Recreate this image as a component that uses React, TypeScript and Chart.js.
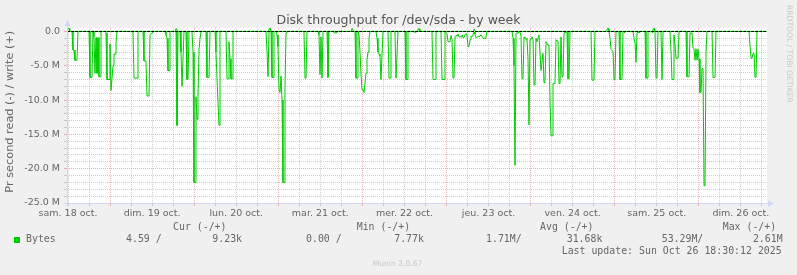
import React, { useEffect, useRef } from 'react';
import { Chart, registerables } from 'chart.js';

Chart.register(...registerables);

const TITLE = 'Disk throughput for /dev/sda - by week';
const Y_TITLE = 'Pr second read (-) / write (+)';
const dayLabels = ['sam. 18 oct.', 'dim. 19 oct.', 'lun. 20 oct.', 'mar. 21 oct.', 'mer. 22 oct.', 'jeu. 23 oct.', 'ven. 24 oct.', 'sam. 25 oct.', 'dim. 26 oct.'];

// time window, hours since Sat 18 Oct 2025 00:00
const windowStartHour = 11.71;
const windowEndHour = 211.47;
const yMinM = -25;
const yMaxM = 0.5;

// read throughput (MB/s), drawn below zero
const readHours = [
  11.71, 13.14, 13.42, 13.71, 13.99, 14.56, 14.85, 17.99, 18.27, 18.84, 19.13, 19.41, 19.70, 19.99, 20.27, 20.56, 20.84, 21.13, 21.41,
  22.55, 22.84, 23.12, 23.70, 23.98, 24.27, 24.55, 24.84, 25.12, 25.41, 25.69, 25.98, 30.54, 30.83, 31.69, 31.97, 32.26,
  33.40, 33.68, 34.25, 34.54, 35.11, 35.40, 35.97, 36.25, 39.68, 39.96, 40.25, 40.53, 40.82, 41.10, 42.82, 43.10, 43.39,
  43.96, 44.24, 44.53, 44.81, 45.10, 45.67, 45.95, 46.24, 46.53, 47.38, 47.67, 47.95, 48.24, 48.52, 48.81, 49.09, 49.38, 49.67, 49.95,
  51.38, 51.66, 52.23, 52.52, 53.95, 54.23, 54.52, 54.80, 55.09, 55.37, 57.08, 57.37, 57.66, 57.94, 58.23, 58.51, 58.80, 59.08,
  68.50, 68.79, 69.07, 69.36, 69.93, 70.21, 70.50, 70.78, 71.35, 71.64, 71.92, 72.21, 72.50, 72.78, 73.07, 73.35, 73.64, 73.92, 74.21, 74.49,
  79.34, 79.63, 79.92, 80.20, 83.34, 83.62, 83.91, 84.20, 84.48, 84.77, 85.91, 86.19, 86.48, 87.62, 87.91, 88.48, 88.76,
  93.90, 94.18, 94.47, 94.75, 95.04, 95.33, 95.61, 95.90, 96.18, 96.47, 96.75, 97.04, 97.32, 97.61, 97.89, 98.18,
  99.89, 100.18, 100.46, 100.75, 101.03, 101.32, 101.60, 101.89, 103.32, 103.60, 103.89, 104.17, 105.31, 105.60, 105.88, 106.17,
  108.17, 108.45, 108.74, 109.02, 110.45, 110.74, 111.31, 111.59, 115.87, 116.16, 116.73, 117.01, 118.44, 118.73, 119.30, 119.58,
  120.15, 120.44, 121.01, 121.30, 121.58, 121.87, 122.15, 122.44, 122.72, 123.01, 123.29, 123.58, 124.15, 124.43, 124.72, 125.01,
  125.29, 125.58, 125.86, 126.15, 126.43, 126.72, 127.00, 127.29, 127.57, 127.86, 128.14, 128.43, 128.72, 129.00, 129.57, 129.86,
  130.14, 130.43, 131.00, 131.28, 131.57, 138.70, 138.99, 139.27, 139.56, 139.85, 140.13, 140.42, 140.70, 140.99, 141.27, 141.56,
  141.84, 142.13, 142.41, 142.70, 142.98, 143.27, 143.56, 143.84, 144.13, 144.41, 144.70, 144.98, 145.27, 145.55, 145.84, 146.12,
  146.41, 146.69, 146.98, 147.26, 147.55, 147.84, 148.12, 148.41, 148.69, 148.98, 149.26, 149.55, 149.83, 150.12, 150.40, 150.97,
  151.26, 151.55, 151.83, 152.12, 152.40, 152.69, 152.97, 153.26, 153.54, 153.83, 154.40, 154.68, 154.97, 155.26,
  161.25, 161.53, 162.10, 162.39, 166.39, 166.67, 166.96, 167.24, 167.53, 167.81, 168.10, 168.38, 169.24, 169.52, 170.10, 170.38,
  170.67, 170.95, 171.24, 173.23, 173.52, 173.81, 174.09, 174.38, 174.66, 175.23, 175.52, 176.66, 176.94, 177.23, 177.51,
  178.37, 178.66, 178.94, 179.23, 179.51, 179.80, 180.08, 180.37, 181.22, 181.51, 181.80, 183.79, 184.08, 184.36, 184.65, 184.93,
  185.22, 185.51, 186.08, 186.36, 186.65, 188.36, 188.64, 189.22, 189.50, 189.79, 190.07, 190.36, 190.64, 190.93, 191.21, 191.50,
  191.78, 192.07, 192.35, 192.64, 192.93, 193.21, 193.50, 193.78, 194.07, 194.35, 195.78, 196.06, 196.64, 196.92,
  206.34, 206.62, 206.91, 207.19, 207.48, 207.77, 208.05, 208.34, 208.62, 211.19,
];
const readMBps = [
  0, 0, 2.7, 2.7, 4.2, 4.2, 0, 0, 6.7, 6.7, 0, 0.8, 6.1, 0.9, 6.1, 0.9, 6.6, 6.6, 0,
  0, 0.2, 7.0, 7.0, 1.8, 8.6, 8.6, 5.0, 3.3, 3.3, 1.7, 0, 0, 6.8, 6.8, 0.2, 0,
  0, 4.3, 4.3, 9.4, 9.4, 0.5, 0.2, 0, 0, 0.5, 1.0, 5.7, 5.7, 0, 0, 13.7, 0,
  0, 3.0, 8.0, 8.0, 0, 0, 7.0, 7.0, 0, 0, 3.0, 22.0, 22.0, 9.5, 12.8, 9.5, 2.7, 1.0, 0,
  0, 6.7, 6.7, 0, 0, 3.0, 6.8, 6.8, 13.7, 0, 0, 6.9, 6.9, 1.5, 4.0, 6.9, 6.9, 0,
  0, 3.0, 6.6, 0, 0, 6.7, 6.7, 0, 0, 0.5, 2.2, 8.5, 8.9, 6.5, 10.0, 22.0, 22.0, 8.0, 0.2, 0,
  0, 6.8, 6.8, 0, 0, 0.5, 6.3, 0.8, 6.8, 0, 0, 6.7, 0, 0, 0.2, 0.2, 0,
  0, 6.8, 6.8, 0, 0.5, 3.0, 6.3, 8.5, 8.5, 8.9, 8.9, 6.1, 4.1, 3.0, 1.0, 0,
  0, 1.0, 3.0, 3.3, 3.6, 7.0, 7.0, 0, 0, 6.8, 6.8, 0, 0, 6.8, 6.8, 0,
  0, 7.0, 7.0, 0, 0, 0.1, 0.1, 0, 0, 7.0, 7.0, 0, 0, 7.0, 7.0, 0,
  0.3, 1.5, 1.5, 0.6, 1.2, 6.8, 6.8, 0.8, 0.6, 0.6, 0.4, 0.8, 0.8, 0.5, 0.9, 0.9,
  0.5, 0.3, 0.6, 2.2, 2.2, 1.2, 0.7, 0.7, 0.5, 0.1, 0.4, 0.9, 0.9, 0.7, 0.7, 0.5,
  0.7, 1.0, 1.0, 0.8, 0, 0, 1.0, 5.0, 19.5, 0.3, 0.2, 0.3, 0, 0.1, 0.7, 6.9,
  6.9, 0.8, 1.0, 1.2, 1.0, 4.0, 13.6, 1.2, 1.2, 0.8, 1.2, 7.8, 7.8, 1.0, 1.5, 1.0,
  0.5, 0.5, 5.7, 5.7, 3.2, 7.5, 7.5, 1.5, 1.7, 2.0, 2.0, 10.0, 15.2, 15.2, 7.6, 7.6,
  1.2, 1.4, 1.4, 7.6, 7.6, 0.8, 6.6, 6.6, 0.2, 0.2, 0, 6.9, 6.9, 0,
  0, 7.1, 7.1, 0, 0, 1.0, 2.6, 2.8, 2.9, 7.0, 7.0, 0, 0, 7.0, 7.0, 0,
  0.15, 0.15, 0, 0, 1.0, 1.7, 4.5, 0.2, 0.15, 0.15, 0, 0, 6.8, 6.8, 0,
  0, 0.15, 0.15, 0, 0, 6.8, 6.8, 0, 0, 7.0, 0, 0, 3.0, 7.0, 7.0, 0.5,
  2.0, 3.9, 3.9, 0.2, 0, 0, 6.6, 6.6, 0.2, 0.3, 0.2, 2.4, 2.5, 4.2, 2.5, 4.2,
  2.6, 4.0, 8.9, 8.9, 5.4, 5.4, 22.5, 22.5, 3.0, 0, 0, 6.7, 6.7, 0,
  0, 2.0, 3.9, 3.9, 3.2, 3.2, 6.7, 6.7, 0, 0,
];

// write throughput (MB/s), drawn above zero
const writeHours = [11.71, 11.85, 12.3, 12.5, 42.6, 42.75, 43.0, 43.2, 69.25, 69.4, 69.65, 69.85, 92.8, 92.95, 93.2, 93.4,
  111.8, 111.95, 112.2, 112.4, 127.65, 127.8, 128.0, 128.2, 165.75, 165.9, 166.15, 166.35, 178.85, 179.0, 179.25, 179.45, 211.4];
const writeMBps = [0, 0.45, 0.45, 0, 0, 0.4, 0.4, 0, 0, 0.45, 0.45, 0, 0, 0.4, 0.4, 0,
  0, 0.4, 0.4, 0, 0, 0.3, 0.3, 0, 0, 0.45, 0.45, 0, 0, 0.45, 0.45, 0, 0];

const seriesName = 'Bytes';
const legendHeaders = ['Cur (-/+)', 'Min (-/+)', 'Avg (-/+)', 'Max (-/+)'];
const legendValues = ['4.59 /', '9.23k', '0.00 /', '7.77k', '1.71M/', '31.68k', '53.29M/', '2.61M'];
const lastUpdate = 'Last update: Sun Oct 26 18:30:12 2025';
const footerText = 'Munin 2.0.67';
const watermarkText = 'RRDTOOL / TOBI OETIKER';

const GREEN = '#00cc00';
const FONT_COLOR = '#666666';
const AXIS_COLOR = '#cfd6f8';
const MAJOR_GRID = 'rgba(220,120,120,0.55)';
const MINOR_GRID = 'rgba(140,140,140,0.42)';
const SANS = '"DejaVu Sans", sans-serif';
const MONO = '"DejaVu Sans Mono", monospace';

const headerX = [173, 356.7, 540, 722.7];
const valueX = [126, 212.3, 306, 394.2, 486, 566.7, 661.7, 752.9];

const backgroundPlugin = {
  id: 'bg',
  beforeDraw(chart: any) {
    const { ctx, chartArea } = chart;
    ctx.save();
    ctx.fillStyle = '#f0f0f0';
    ctx.fillRect(0, 0, chart.width, chart.height);
    ctx.fillStyle = '#ffffff';
    ctx.fillRect(chartArea.left, chartArea.top, chartArea.right - chartArea.left, chartArea.bottom - chartArea.top);
    ctx.restore();
  },
};

const overlayPlugin = {
  id: 'overlay',
  afterDatasetsDraw(chart: any) {
    const { ctx, chartArea, scales } = chart;
    const y0 = Math.round(scales.y.getPixelForValue(0)) + 0.5;
    ctx.save();
    ctx.strokeStyle = '#000000';
    ctx.lineWidth = 1;
    ctx.setLineDash([3, 1]);
    ctx.beginPath();
    ctx.moveTo(chartArea.left, y0);
    ctx.lineTo(chartArea.right, y0);
    ctx.stroke();
    ctx.restore();
  },
  afterDraw(chart: any) {
    const { ctx, chartArea } = chart;
    const L = chartArea.left + 0.5;
    const B = chartArea.bottom + 0.5;
    ctx.save();
    // axes and arrows
    ctx.strokeStyle = AXIS_COLOR;
    ctx.fillStyle = AXIS_COLOR;
    ctx.lineWidth = 1;
    ctx.beginPath();
    ctx.moveTo(L, B + 3);
    ctx.lineTo(L, chartArea.top - 4);
    ctx.moveTo(L - 4, B);
    ctx.lineTo(chartArea.right + 3, B);
    ctx.stroke();
    ctx.beginPath();
    ctx.moveTo(L - 3, chartArea.top - 2);
    ctx.lineTo(L + 3, chartArea.top - 2);
    ctx.lineTo(L, chartArea.top - 8);
    ctx.closePath();
    ctx.fill();
    ctx.beginPath();
    ctx.moveTo(chartArea.right + 1, B - 3);
    ctx.lineTo(chartArea.right + 1, B + 3);
    ctx.lineTo(chartArea.right + 7, B);
    ctx.closePath();
    ctx.fill();

    // title
    ctx.fillStyle = '#555555';
    ctx.font = `12.5px ${SANS}`;
    ctx.textAlign = 'center';
    ctx.textBaseline = 'alphabetic';
    ctx.fillText(TITLE, 398.5, 23.5);

    // vertical axis title
    ctx.save();
    ctx.translate(10.5, 111.7);
    ctx.rotate(-Math.PI / 2);
    ctx.font = `11.3px ${SANS}`;
    ctx.fillStyle = FONT_COLOR;
    ctx.textBaseline = 'middle';
    ctx.textAlign = 'center';
    ctx.fillText(Y_TITLE, 0, 0);
    ctx.restore();

    // watermark
    ctx.save();
    ctx.translate(788.5, 5);
    ctx.rotate(Math.PI / 2);
    ctx.font = `7.6px ${SANS}`;
    ctx.fillStyle = '#c8c8c8';
    ctx.textBaseline = 'middle';
    ctx.textAlign = 'left';
    ctx.fillText(watermarkText, 0, 0);
    ctx.restore();

    // legend
    ctx.font = `9.9px ${MONO}`;
    ctx.fillStyle = FONT_COLOR;
    ctx.textAlign = 'left';
    ctx.textBaseline = 'middle';
    legendHeaders.forEach((h, i) => ctx.fillText(h, headerX[i], 227.3));
    ctx.fillText(seriesName, 26, 239.5);
    legendValues.forEach((v, i) => ctx.fillText(v, valueX[i], 239.5));
    ctx.fillText(lastUpdate, 561.7, 251.7);
    ctx.fillStyle = GREEN;
    ctx.fillRect(14, 237, 6, 6);

    // footer
    ctx.font = `7.6px ${SANS}`;
    ctx.fillStyle = '#c8c8c8';
    ctx.textAlign = 'center';
    ctx.fillText(footerText, 397.5, 264);
    ctx.restore();
  },
};

export default function App() {
  const ref = useRef<HTMLCanvasElement>(null);
  useEffect(() => {
    document.body.style.margin = '0';
    document.body.style.background = '#f0f0f0';
    const canvas = ref.current;
    if (!canvas) return;
    const readData = readHours.map((h, i) => ({ x: h, y: -readMBps[i] }));
    const writeData = writeHours.map((h, i) => ({ x: h, y: writeMBps[i] }));
    const chart = new Chart(canvas, {
      type: 'line',
      data: {
        datasets: [
          { label: 'read', data: readData, borderColor: GREEN, borderWidth: 1, pointRadius: 0, fill: false, tension: 0 },
          { label: 'write', data: writeData, borderColor: GREEN, borderWidth: 1, pointRadius: 0, fill: false, tension: 0 },
        ],
      },
      options: {
        animation: false,
        responsive: false,
        devicePixelRatio: 1,
        events: [],
        layout: { padding: { top: 28, right: 30, bottom: 56, left: 0 } },
        plugins: { legend: { display: false }, tooltip: { enabled: false }, title: { display: false } },
        scales: {
          x: {
            type: 'linear',
            min: windowStartHour,
            max: windowEndHour,
            afterBuildTicks: (scale: any) => {
              const t: any[] = [];
              for (let v = 12; v <= windowEndHour; v += 6) t.push({ value: v });
              scale.ticks = t;
            },
            afterFit: (scale: any) => {
              scale.height = 16;
            },
            ticks: {
              autoSkip: false,
              maxRotation: 0,
              padding: 2,
              color: FONT_COLOR,
              font: { family: SANS, size: 9.5 },
              callback: (value: any) => {
                const v = Number(value);
                if ((v - 12) % 24 === 0) return dayLabels[(v - 12) / 24] ?? '';
                return '';
              },
            },
            grid: {
              drawTicks: true,
              tickLength: 3,
              color: (c: any) => (c.tick && c.tick.value % 24 === 0 ? MAJOR_GRID : MINOR_GRID),
            },
            border: { display: false, dash: [1, 1] },
          },
          y: {
            type: 'linear',
            min: yMinM,
            max: yMaxM,
            afterBuildTicks: (scale: any) => {
              const t: any[] = [];
              for (let v = yMinM; v <= 0; v += 1) t.push({ value: v });
              scale.ticks = t;
            },
            afterFit: (scale: any) => {
              scale.width = 67;
            },
            ticks: {
              autoSkip: false,
              padding: 4,
              color: FONT_COLOR,
              font: { family: SANS, size: 9.5 },
              callback: (value: any) => {
                const v = Number(value);
                if (v % 5 !== 0) return '';
                return v === 0 ? '0.0' : `${v.toFixed(1)} M`;
              },
            },
            grid: {
              drawTicks: true,
              tickLength: 3,
              color: (c: any) => (c.tick && c.tick.value % 5 === 0 ? MAJOR_GRID : MINOR_GRID),
            },
            border: { display: false, dash: [1, 1] },
          },
        },
      } as any,
      plugins: [backgroundPlugin, overlayPlugin],
    });
    return () => chart.destroy();
  }, []);
  return <canvas ref={ref} width={797} height={275} style={{ display: 'block' }} />;
}
